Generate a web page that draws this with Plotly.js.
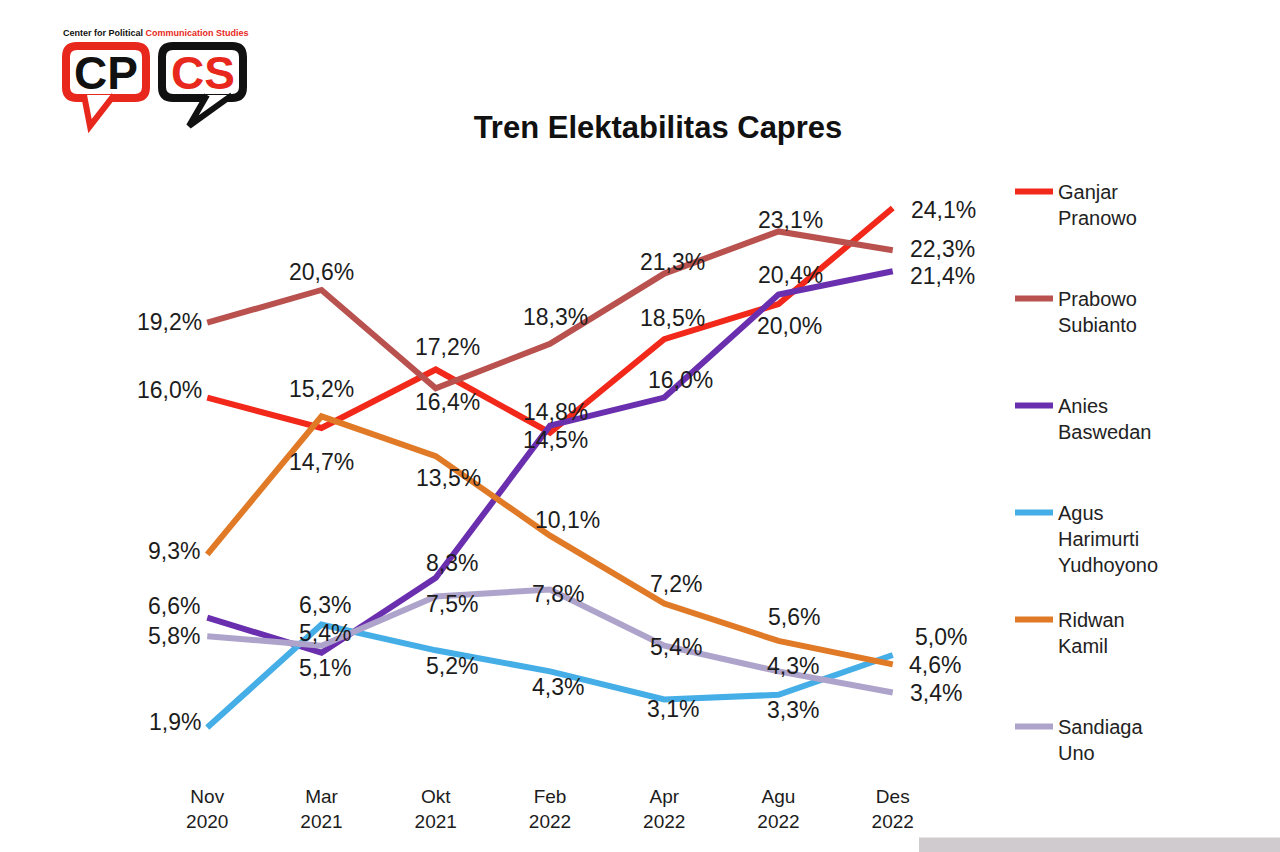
<!DOCTYPE html>
<html>
<head>
<meta charset="utf-8">
<script src="https://cdn.plot.ly/plotly-3.0.1.min.js"></script>
<style>html,body{margin:0;padding:0;background:#fff;}#chart{width:1280px;height:852px;}</style>
</head>
<body>
<div id="chart"></div>
<script>
// ---- data ----
const categories = ['Nov<br>2020','Mar<br>2021','Okt<br>2021','Feb<br>2022','Apr<br>2022','Agu<br>2022','Des<br>2022'];
const seriesNames = ['Ganjar<br>Pranowo','Prabowo<br>Subianto','Anies<br>Baswedan','Agus<br>Harimurti<br>Yudhoyono','Ridwan<br>Kamil','Sandiaga<br>Uno'];
const ganjar   = [16.0, 14.7, 17.2, 14.5, 18.5, 20.0, 24.1];
const prabowo  = [19.2, 20.6, 16.4, 18.3, 21.3, 23.1, 22.3];
const anies    = [6.6, 5.1, 8.3, 14.8, 16.0, 20.4, 21.4];
const ahy      = [1.9, 6.3, 5.2, 4.3, 3.1, 3.3, 5.0];
const ridwan   = [9.3, 15.2, 13.5, 10.1, 7.2, 5.6, 4.6];
const sandiaga = [5.8, 5.4, 7.5, 7.8, 5.4, 4.3, 3.4];
const titleText = 'Tren Elektabilitas Capres';

// ---- styles ----
const colors = ['#f2281a', '#b9524f', '#6a2fae', '#45aee6', '#e07a26', '#aea4cb'];
// label offsets in pixels [dx, dy(up)]
const labelOffsets = [
  [[-38,8],[0,-34],[12,23],[5,-7],[8,21],[11,-22],[51,-2]],
  [[-38,1],[0,18],[12,-14],[5,27],[8,12],[12,11],[50,1]],
  [[-33,12],[3,-15],[16,15],[5,14],[16,18],[12,20],[50,-5]],
  [[-32,6],[3,20],[16,-16],[8,-16],[9,-10],[14,-15],[48,18]],
  [[-33,3],[0,27],[13,-22],[17,16],[12,20],[15,24],[42,-1]],
  [[-33,0],[3,13],[16,-7],[8,-5],[12,-1],[14,5],[43,-1]]
];
const FONT = 'Liberation Sans, Arial, sans-serif';

const allSeries = [ganjar, prabowo, anies, ahy, ridwan, sandiaga];

// plot area in pixels
const L = 93, R = 1007, T = 187, B = 772.5;
function px(x){ return (x - L) / (R - L); }
function py(y){ return (B - y) / (B - T); }
function p(x, y){ return px(x).toFixed(5) + ',' + py(y).toFixed(5); }
function roundRect(x0, y0, x1, y1, r){
  return 'M' + p(x0+r,y0) + ' L' + p(x1-r,y0) + ' Q' + p(x1,y0) + ' ' + p(x1,y0+r) +
         ' L' + p(x1,y1-r) + ' Q' + p(x1,y1) + ' ' + p(x1-r,y1) +
         ' L' + p(x0+r,y1) + ' Q' + p(x0,y1) + ' ' + p(x0,y1-r) +
         ' L' + p(x0,y0+r) + ' Q' + p(x0,y0) + ' ' + p(x0+r,y0) + ' Z';
}

const traces = allSeries.map((vals, i) => {
  const lines = seriesNames[i].split('<br>').length;
  let name = seriesNames[i];
  for (let k = lines; k < 3; k++) name += '<br>\u00a0';
  return {
    type: 'scatter', mode: 'lines', x: categories, y: vals, name: name,
    legendgroup: 'g' + i,
    line: {color: colors[i], width: 6},
    hoverinfo: 'skip'
  };
});

const annotations = [];
allSeries.forEach((vals, i) => {
  vals.forEach((v, j) => {
    annotations.push({
      x: categories[j], y: v, xref: 'x', yref: 'y', showarrow: false,
      text: v.toFixed(1).replace('.', ',') + '%',
      xshift: labelOffsets[i][j][0], yshift: labelOffsets[i][j][1],
      xanchor: 'center', yanchor: 'middle',
      font: {family: FONT, size: 23, color: '#1c1c1c'}
    });
  });
});

// logo texts
annotations.push({
  xref: 'paper', yref: 'paper', x: px(156), y: py(33), showarrow: false,
  xanchor: 'center', yanchor: 'middle',
  text: '<b>Center for Political <span style="color:#e8281c">Communication Studies</span></b>',
  font: {family: FONT, size: 9, color: '#111'}
});
annotations.push({
  xref: 'paper', yref: 'paper', x: px(106), y: py(73), showarrow: false,
  xanchor: 'center', yanchor: 'middle', text: '<b>CP</b>',
  font: {family: FONT, size: 46, color: '#111'}
});
annotations.push({
  xref: 'paper', yref: 'paper', x: px(203), y: py(73), showarrow: false,
  xanchor: 'center', yanchor: 'middle', text: '<b>CS</b>',
  font: {family: FONT, size: 46, color: '#e8281c'}
});

const shapes = [
  {type: 'path', xref: 'paper', yref: 'paper', path: roundRect(66, 46, 146, 98, 11), fillcolor: '#ffffff', line: {color: '#e8281c', width: 8}},
  {type: 'path', xref: 'paper', yref: 'paper', path: 'M' + p(84,95) + ' L' + p(90,126) + ' L' + p(114,95), fillcolor: '#ffffff', line: {color: '#e8281c', width: 6}},
  {type: 'path', xref: 'paper', yref: 'paper', path: roundRect(162, 46, 243, 98, 11), fillcolor: '#ffffff', line: {color: '#111111', width: 8}},
  {type: 'path', xref: 'paper', yref: 'paper', path: 'M' + p(207,95) + ' L' + p(189,126) + ' L' + p(232,95), fillcolor: '#ffffff', line: {color: '#111111', width: 6}},
  {type: 'rect', xref: 'paper', yref: 'paper', x0: px(919), x1: px(1282), y0: py(838), y1: py(854), fillcolor: '#cfcbce', line: {width: 0}, layer: 'below'}
];

const layout = {
  width: 1280, height: 852,
  paper_bgcolor: '#ffffff', plot_bgcolor: '#ffffff',
  margin: {l: L, r: 1280 - R, t: T, b: 852 - B},
  title: {
    text: '<b>' + titleText + '</b>', xref: 'container', yref: 'container',
    x: 658 / 1280, y: 1 - 127 / 852, xanchor: 'center', yanchor: 'middle',
    font: {family: FONT, size: 31, color: '#111'}
  },
  xaxis: {
    type: 'category', range: [-1, 7], showgrid: false, zeroline: false, showline: false,
    ticks: '', ticklabelstandoff: 11,
    tickfont: {family: FONT, size: 19, color: '#1c1c1c'}, fixedrange: true
  },
  yaxis: {range: [0, 25], visible: false, fixedrange: true},
  showlegend: true,
  legend: {
    xref: 'container', yref: 'container', x: 1010 / 1280, y: 1 - 172 / 852,
    xanchor: 'left', yanchor: 'top', traceorder: 'grouped', tracegroupgap: 26,
    valign: 'top', itemwidth: 38, maxheight: 700,
    font: {family: FONT, size: 20, color: '#222'},
    bgcolor: 'rgba(0,0,0,0)', borderwidth: 0
  },
  annotations: annotations,
  shapes: shapes
};

Plotly.newPlot('chart', traces, layout, {displayModeBar: false, responsive: false});
</script>
</body>
</html>
